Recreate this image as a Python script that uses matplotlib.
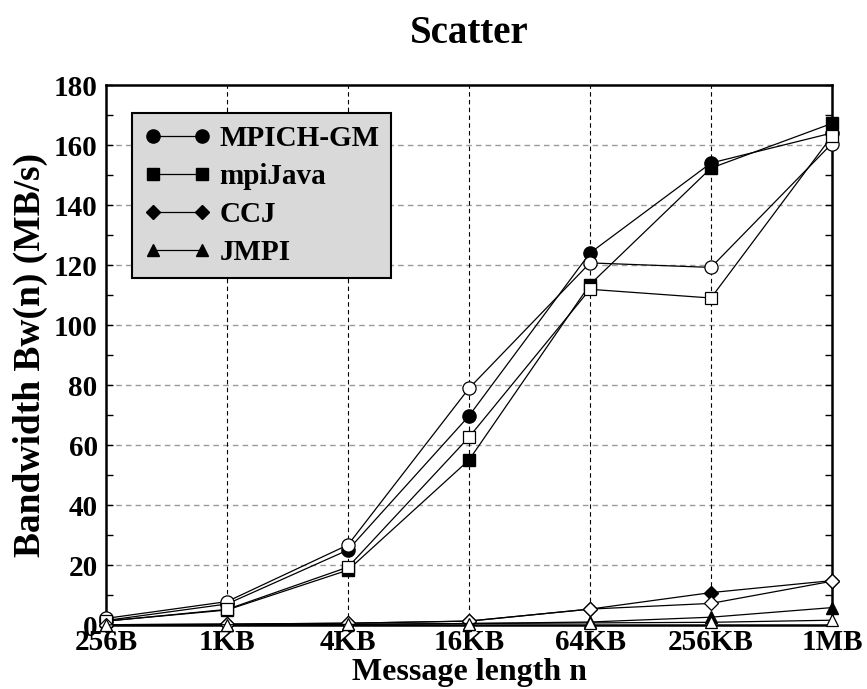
import matplotlib
matplotlib.use('Agg')
import matplotlib.pyplot as plt
import numpy as np
from matplotlib.ticker import MultipleLocator

plt.rcParams['font.family'] = ['Liberation Serif', 'DejaVu Serif']
plt.rcParams['font.weight'] = 'bold'
plt.rcParams['axes.labelweight'] = 'bold'
plt.rcParams['axes.titleweight'] = 'bold'

sizes = ['256B', '1KB', '4KB', '16KB', '64KB', '256KB', '1MB']

# filled markers (legend) and open markers (second run)
mpich_filled = [1.5, 7.0, 25.0, 69.7, 124.0, 154.0, 164.0]
mpich_open = [2.2, 7.8, 26.7, 78.9, 120.7, 119.2, 160.5]
mpijava_filled = [1.3, 5.0, 18.3, 55.0, 113.5, 152.3, 167.2]
mpijava_open = [1.3, 5.2, 19.3, 62.6, 111.9, 109.0, 163.0]
ccj_filled = [0.1, 0.3, 0.6, 1.3, 5.3, 10.8, 14.8]
ccj_open = [0.1, 0.3, 0.6, 1.3, 5.3, 7.2, 14.6]
jmpi_filled = [0.05, 0.1, 0.2, 0.5, 1.0, 2.6, 5.8]
jmpi_open = [0.05, 0.1, 0.2, 0.5, 0.7, 0.9, 1.6]

series = [
    ('MPICH-GM', 'o', 9.5, mpich_filled, mpich_open),
    ('mpiJava', 's', 8.5, mpijava_filled, mpijava_open),
    ('CCJ', 'D', 7.0, ccj_filled, ccj_open),
    ('JMPI', '^', 9.0, jmpi_filled, jmpi_open),
]

fig = plt.figure(figsize=(8.67, 6.89), dpi=100)
ax = fig.add_axes([106/867, 64/689, 726/867, 540/689])

x = np.arange(len(sizes))

for name, mk, ms, filled, opened in series:
    ax.plot(x, filled, color='black', lw=0.9, marker=mk, ms=ms,
            mfc='black', mec='black', label=name, zorder=3, clip_on=False)
for name, mk, ms, filled, opened in series:
    ax.plot(x, opened, color='black', lw=0.9, marker=mk, ms=ms,
            mfc='white', mec='black', mew=0.9, zorder=4, clip_on=False)

ax.set_xlim(0, len(sizes) - 1)
ax.set_ylim(0, 180)
ax.set_xticks(x)
ax.set_xticklabels(sizes)
ax.yaxis.set_major_locator(MultipleLocator(20))
ax.yaxis.set_minor_locator(MultipleLocator(10))

ax.tick_params(axis='x', length=0, labelsize=21, pad=3)
ax.tick_params(axis='y', which='both', direction='in', left=True, right=True,
               labelsize=21, pad=6)
ax.tick_params(axis='y', which='major', length=5, width=1)
ax.tick_params(axis='y', which='minor', length=5, width=1)

for y in range(20, 180, 20):
    ax.axhline(y, color='#999999', lw=1.0, ls=(0, (4, 3)), zorder=1)
for xi in x[1:-1]:
    ax.axvline(xi, color='black', lw=0.8, ls=(0, (4, 3)), zorder=1)

for sp in ax.spines.values():
    sp.set_linewidth(1.8)

ax.set_xlabel('Message length n', fontsize=23, labelpad=1)
ax.set_ylabel('Bandwidth Bw(n) (MB/s)', fontsize=27, labelpad=4)
ax.set_title('Scatter', fontsize=28, pad=30)

leg = ax.legend(loc='upper left', bbox_to_anchor=(0.036, 0.948), borderaxespad=0,
                fontsize=21, numpoints=2, handlelength=2.3, handletextpad=0.3,
                labelspacing=0.38, borderpad=0.4, fancybox=False, framealpha=1)
leg.get_frame().set_facecolor('#d9d9d9')
leg.get_frame().set_edgecolor('black')
leg.get_frame().set_linewidth(1.5)
leg.set_zorder(5)

fig.savefig('out.png', dpi=100)
